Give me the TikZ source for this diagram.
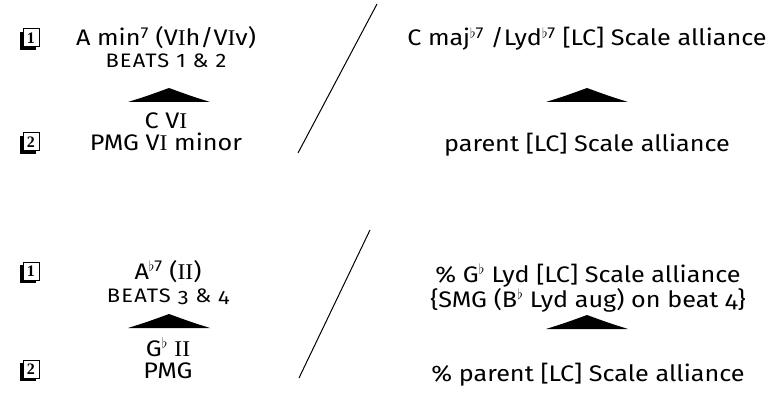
\documentclass[tikz,border=0pt]{standalone}
\usepackage{fontspec}
\setmainfont{Fira Sans}[FakeStretch=1.12]
\newfontfamily\serifnum{Liberation Serif}[FakeStretch=1.05]
\newfontfamily\boxfont{Liberation Serif}
\usetikzlibrary{shadows}
\newcommand{\RI}{{\serifnum I}}
\newcommand{\flsup}[1]{\textsuperscript{$\flat$#1}}
\newcommand{\bt}[1]{{\fontsize{19.5}{19.5}\selectfont\addfontfeatures{LetterSpace=6}#1}}
\newcommand{\onum}[1]{{\addfontfeatures{Numbers=OldStyle}#1}}
\begin{document}
\begin{tikzpicture}[x=1pt,y=-1pt,
  txt/.style={font=\fontsize{22.5}{24}\selectfont, inner sep=0pt, anchor=base},
  numbox/.style={draw, fill=white, line width=1pt, minimum width=16pt, minimum height=18pt,
     inner sep=0pt, font=\boxfont\bfseries\fontsize{16}{16}\selectfont,
     general shadow={fill=black, shadow xshift=-2.6pt, shadow yshift=-2.6pt}},
  tri/.style={fill=black},
  slash/.style={line width=1pt}]
\useasboundingbox (0,0) rectangle (777,401);
% number boxes
\node[numbox] (b1) at (31,38) {1};
\node[numbox] (b2) at (31,142) {2};
\node[numbox] (b3) at (31,271) {1};
\node[numbox] (b4) at (31,369) {2};
% top left
\node[txt] (amin) at (166,46) {A min\textsuperscript{7} (V\RI h/V\RI v)};
\node[txt] (beats1) at (166,68) {\bt{BEATS 1 \& 2}};
\node[txt] (cvi) at (166,129) {C V\RI};
\node[txt] (pmg1) at (166,151) {PMG V\RI\ minor};
% top right
\node[txt] (cmaj) at (587,46) {C maj\flsup{7} /Lyd\flsup{7} [LC] Scale alliance};
\node[txt] (parent1) at (587,152) {parent [LC] Scale alliance};
% bottom left
\node[txt] (ab7) at (168,279) {A\flsup{7} ({\serifnum II})};
\node[txt] (beats2) at (168,302) {\bt{BEATS \onum{3} \& \onum{4}}};
\node[txt] (gbii) at (168,356) {G\textsuperscript{$\flat$} {\serifnum II}};
\node[txt] (pmg2) at (168,378) {PMG};
% bottom right
\node[txt] (gblyd) at (588,282) {\% G\textsuperscript{$\flat$} Lyd [LC] Scale alliance};
\node[txt] (smg) at (588,307) {\{SMG (B\textsuperscript{$\flat$} Lyd aug) on beat \onum{4}\}};
\node[txt] (parent2) at (588,381) {\% parent [LC] Scale alliance};
% triangles
\foreach \cx/\by in {169/102, 587/102, 169/328, 587/329}{
  \fill[tri] (\cx-41,\by) .. controls (\cx-22,\by-6) .. (\cx,\by-14)
     .. controls (\cx+22,\by-6) .. (\cx+41,\by) -- cycle;
}
% slashes
\coordinate (s1t) at (377,4);
\coordinate (s1b) at (298,153);
\coordinate (s2t) at (370,230);
\coordinate (s2b) at (299,378);
\draw[slash] (s1b) -- (s1t);
\draw[slash] (s2b) -- (s2t);
\end{tikzpicture}
\end{document}
